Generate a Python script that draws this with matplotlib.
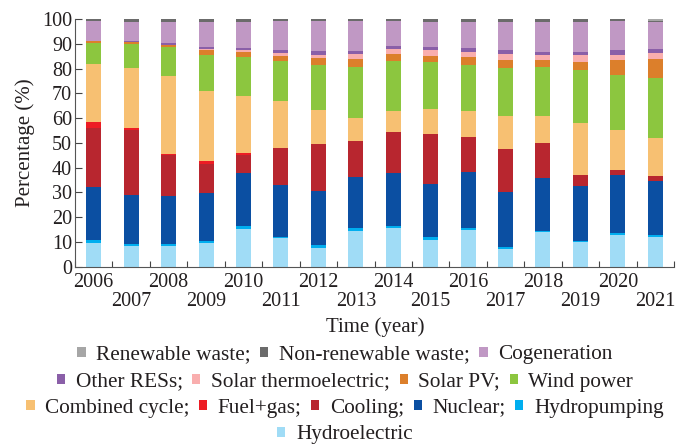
import matplotlib.pyplot as plt
import numpy as np

plt.rcParams['font.family'] = ['Liberation Serif', 'DejaVu Serif']
plt.rcParams['font.size'] = 14.5
txt = '#231f20'

years = [str(y) for y in range(2006, 2022)]

hydroelectric = [9.6, 8.3, 8.3, 9.6, 15.2, 11.6, 7.5, 14.4, 15.6, 10.8, 14.8, 7.1, 14.0, 10.0, 12.8, 12.0]
hydropumping = [1.2, 0.9, 0.9, 0.8, 1.2, 0.5, 1.2, 1.2, 0.8, 1.2, 0.8, 0.8, 0.4, 0.4, 0.8, 0.8]
nuclear = [21.4, 19.7, 19.3, 19.3, 21.4, 20.9, 21.9, 20.6, 21.4, 21.5, 22.6, 22.2, 21.5, 22.3, 23.4, 21.8]
cooling = [23.8, 26.3, 16.6, 11.8, 7.3, 14.9, 18.9, 14.5, 16.6, 20.1, 14.2, 17.4, 14.0, 4.3, 2.0, 2.0]
fuel_gas = [2.4, 0.8, 0.5, 1.2, 0.8, 0, 0, 0, 0, 0, 0, 0, 0, 0, 0, 0]
combined_cycle = [23.4, 24.2, 31.4, 28.2, 23.0, 19.0, 13.8, 9.3, 8.5, 10.1, 10.5, 13.3, 10.9, 21.0, 16.2, 15.4]
wind = [8.5, 9.7, 11.7, 14.6, 15.8, 16.1, 18.1, 20.6, 20.1, 18.9, 18.5, 19.4, 19.8, 21.4, 22.2, 24.2]
solar_pv = [0.8, 0.7, 0.8, 2.1, 2.0, 2.1, 2.9, 3.2, 2.9, 2.5, 3.3, 3.2, 2.8, 3.2, 6.0, 7.6]
solar_thermo = [0, 0, 0, 0.4, 0.8, 1.2, 1.2, 2.1, 2.0, 2.4, 2.0, 2.5, 2.1, 2.9, 2.1, 2.5]
other_res = [0, 0.5, 0.8, 0.7, 0.8, 1.2, 1.6, 1.2, 1.2, 1.2, 1.6, 1.6, 1.2, 1.2, 2.0, 1.7]
cogeneration = [8.1, 7.7, 8.5, 10.1, 10.5, 11.7, 12.1, 12.1, 10.1, 10.1, 10.5, 11.3, 12.1, 12.1, 11.7, 10.8]
nonrenew_waste = [0.8, 1.2, 1.2, 1.2, 1.2, 0.8, 0.8, 0.8, 0.8, 1.2, 1.2, 1.2, 1.2, 1.2, 0.8, 0.4]
renew_waste = [0, 0, 0, 0, 0, 0, 0, 0, 0, 0, 0, 0, 0, 0, 0, 0.8]

series = [
    ('Hydroelectric', hydroelectric, '#a0dcf6'),
    ('Hydropumping', hydropumping, '#00aeef'),
    ('Nuclear', nuclear, '#0b4fa2'),
    ('Cooling', cooling, '#b8262f'),
    ('Fuel+gas', fuel_gas, '#ed1c24'),
    ('Combined cycle', combined_cycle, '#f7c072'),
    ('Wind power', wind, '#8cc63f'),
    ('Solar PV', solar_pv, '#dc7f2b'),
    ('Solar thermoelectric', solar_thermo, '#f9aeae'),
    ('Other RESs', other_res, '#8a5fa8'),
    ('Cogeneration', cogeneration, '#c098c4'),
    ('Non-renewable waste', nonrenew_waste, '#6b6b6b'),
    ('Renewable waste', renew_waste, '#a6a6a6'),
]

fig = plt.figure(figsize=(6.89, 4.47), dpi=100)
ax = fig.add_axes([75/689, 1-266.7/447, (674-75)/689, (266.7-19)/447])

x = np.arange(len(years))
bottom = np.zeros(len(years))
handles = {}
for name, vals, col in series:
    b = ax.bar(x, vals, 0.4, bottom=bottom, color=col, linewidth=0)
    handles[name] = b
    bottom += np.array(vals)

ax.set_xlim(-0.5, len(years) - 0.5)
ax.set_ylim(0, 100)
ax.set_yticks(range(0, 101, 10))
ax.set_xticks(np.arange(-0.5, len(years), 1))
ax.set_xticklabels([])
ax.tick_params(axis='y', direction='in', length=5, colors='#444', labelcolor=txt, pad=2)
ax.tick_params(axis='x', direction='in', length=4, colors='#444')
for s in ['top', 'right']:
    ax.spines[s].set_visible(False)
for s in ['left', 'bottom']:
    ax.spines[s].set_color('#555')

trans = ax.get_xaxis_transform()
for i, yr in enumerate(years):
    yy = -0.062 if i % 2 == 0 else -0.141
    ax.text(i, yy, yr, transform=trans, ha='center', va='center', color=txt)

fig.text(375/689, 1-327/447, 'Time (year)', ha='center', va='center', color=txt, fontsize=15)
fig.text(25/689, 1-143/447, 'Percentage (%)', ha='center', va='center', rotation=90,
         color=txt, fontsize=15)

rows = [
    (['Renewable waste', 'Non-renewable waste', 'Cogeneration'], 355),
    (['Other RESs', 'Solar thermoelectric', 'Solar PV', 'Wind power'], 382),
    (['Combined cycle', 'Fuel+gas', 'Cooling', 'Nuclear', 'Hydropumping'], 408),
    (['Hydroelectric'], 435),
]
for names, ypix in rows:
    labels = [n + ';' for n in names[:-1]] + [names[-1]]
    fig.legend([handles[n] for n in names], labels, loc='center', ncol=len(names),
               bbox_to_anchor=(345/689, 1-ypix/447), frameon=False, fontsize=15.3,
               handlelength=0.38, handleheight=0.38, handletextpad=0.5,
               columnspacing=0.45, borderpad=0, labelcolor=txt)

fig.savefig('out.png', dpi=100)
